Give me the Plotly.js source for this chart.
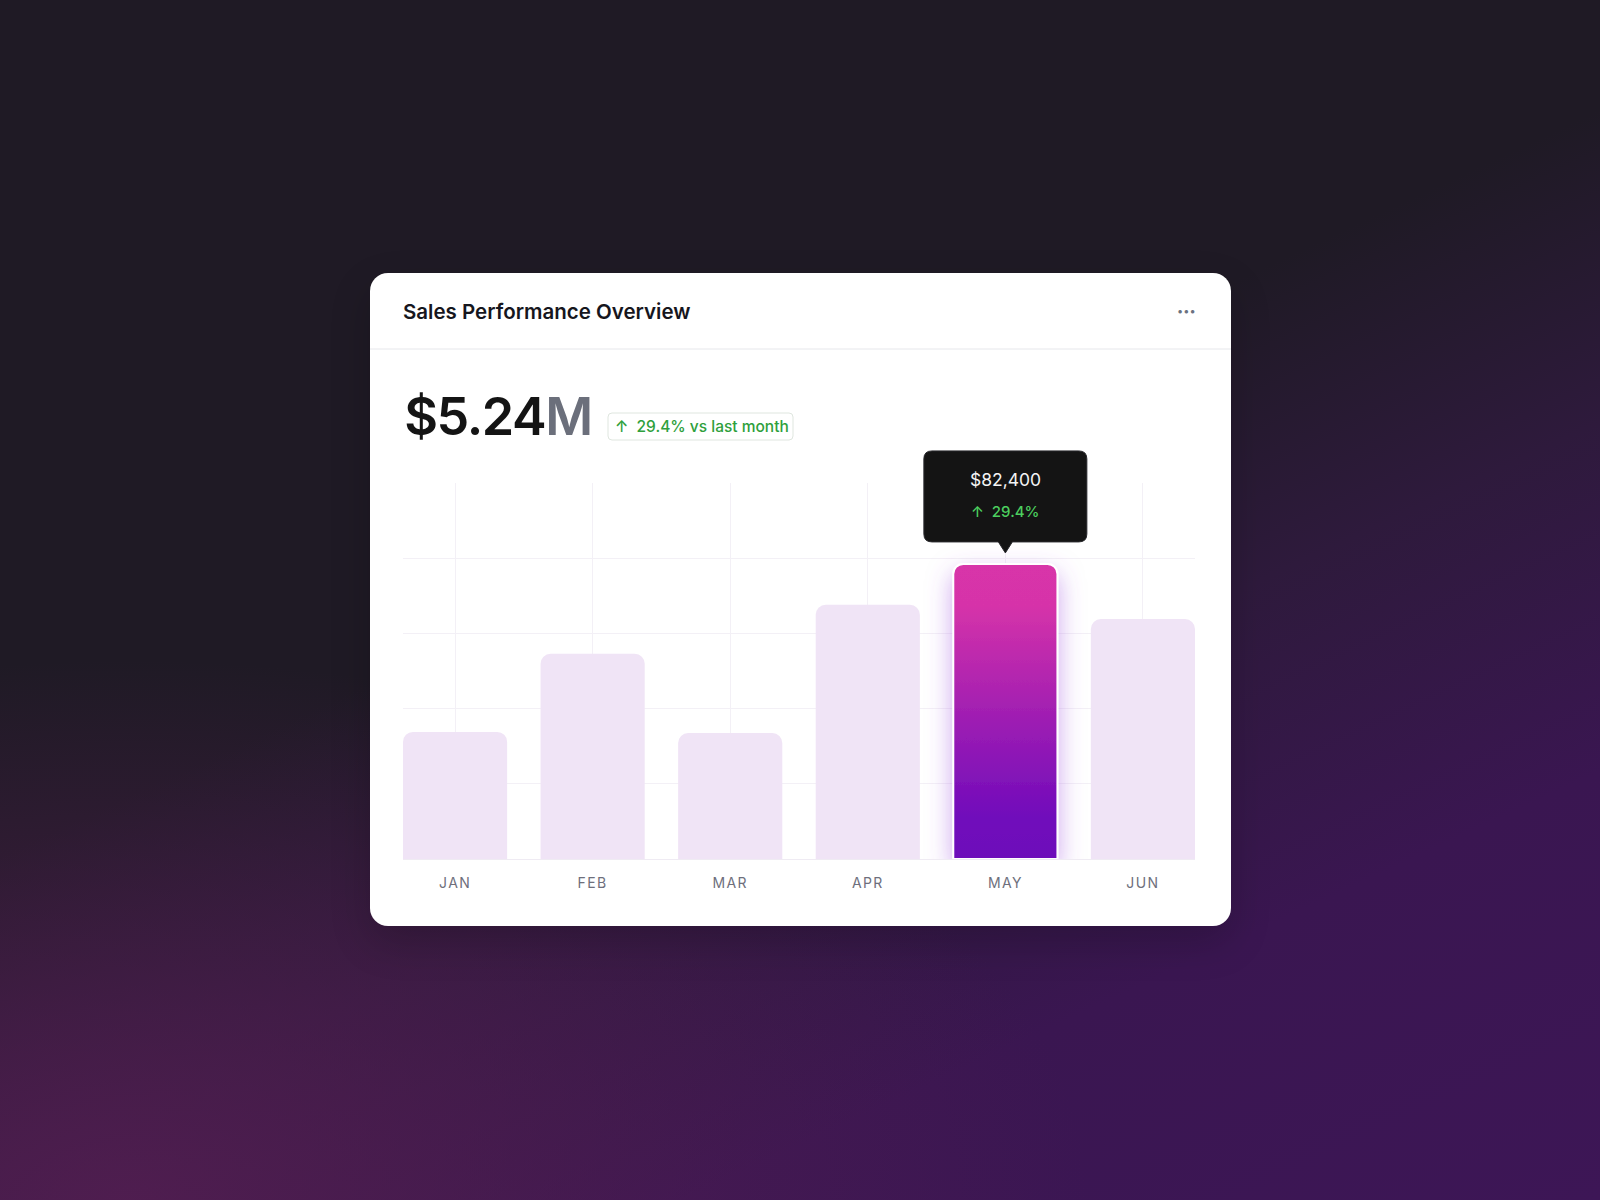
<!DOCTYPE html>
<html>
<head>
<meta charset="utf-8">
<script src="https://cdn.plot.ly/plotly-3.0.1.min.js"></script>
<style>
  html, body { margin: 0; padding: 0; width: 1600px; height: 1200px; overflow: hidden; }
  body {
    background:
      radial-gradient(ellipse 60% 45% at 8% 100%, rgba(84,30,82,0.85), rgba(84,30,82,0) 100%),
      linear-gradient(155deg, #1f1a25 0%, #1f1a25 44%, #2e1a3c 60%, #3a1651 78%, #3d1656 100%);
    font-family: Inter, "Noto Sans", sans-serif;
  }
  #card {
    position: absolute; left: 370px; top: 273px; width: 861px; height: 653px;
    background: #ffffff; border-radius: 18px;
    box-shadow: 0 16px 40px rgba(0,0,0,0.18);
    z-index: 0;
  }
  #chart { position: absolute; left: 0; top: 0; width: 1600px; height: 1200px; z-index: 1; }
  .xtick text { letter-spacing: 1.4px; }
  g.annotation[data-index="0"] text { letter-spacing: -1.4px; }
</style>
</head>
<body>
<div id="card"></div>
<div id="chart"></div>
<script>
// ---- data ----
const months = ['JAN', 'FEB', 'MAR', 'APR', 'MAY', 'JUN'];
const sales = [35500, 57300, 35200, 71000, 82400, 67000];
const highlightMonth = 'MAY';
const tooltipValue = '$82,400';
const tooltipChange = '29.4%';
const headlineValue = '$5.24';
const headlineUnit = 'M';
const badgeText = '29.4% vs last month';
const chartTitle = 'Sales Performance Overview';

// ---- layout constants (pixels) ----
const W = 1600, H = 1200;
const PL = 403, PR = 1195, PT = 483, PB = 859;
const PW = PR - PL, PH = PB - PT;
const YMAX = 105000, YSTEP = 21000;
const FONT = 'Inter, "Noto Sans", sans-serif';

const hi = months.indexOf(highlightMonth);
const px = v => (v - PL) / PW;      // page x -> paper x
const py = v => (PB - v) / PH;      // page y -> paper y

function roundRect(x0, x1, y0, y1, rx, ry, notch) {
  // y0 is bottom, y1 is top (y upward)
  let p = `M${x0 + rx},${y0}`;
  if (notch) p += ` L${notch.l},${y0} L${notch.cx},${notch.tip} L${notch.r},${y0}`;
  p += ` L${x1 - rx},${y0} Q${x1},${y0} ${x1},${y0 + ry}`;
  p += ` L${x1},${y1 - ry} Q${x1},${y1} ${x1 - rx},${y1}`;
  p += ` L${x0 + rx},${y1} Q${x0},${y1} ${x0},${y1 - ry}`;
  p += ` L${x0},${y0 + ry} Q${x0},${y0} ${x0 + rx},${y0} Z`;
  return p;
}

const barColors = months.map((m, i) => i === hi ? '#a11fb3' : '#f0e4f6');
const lineColors = months.map((m, i) => i === hi ? '#ffffff' : 'rgba(0,0,0,0)');
const lineWidths = months.map((m, i) => i === hi ? 2 : 0);

const data = [{
  type: 'bar',
  x: months,
  y: sales,
  marker: { color: barColors, line: { color: lineColors, width: lineWidths }, cornerradius: 10 },
  cliponaxis: false,
  hoverinfo: 'none'
}];

const badge = { x0: 608, x1: 793, y0: 413, y1: 440 };

const shapes = [
  // header divider
  { type: 'line', xref: 'paper', yref: 'paper', x0: px(370), x1: px(1231), y0: py(349), y1: py(349),
    line: { color: '#e6e7eb', width: 1 }, layer: 'below' },
  // badge
  { type: 'path', xref: 'paper', yref: 'paper',
    path: roundRect(px(badge.x0), px(badge.x1), py(badge.y1), py(badge.y0), 4 / PW, 4 / PH),
    fillcolor: '#ffffff', line: { color: '#dfe6df', width: 1 }, layer: 'above' },
  // tooltip anchored to highlighted bar
  { type: 'path', xref: 'x', yref: 'paper', xsizemode: 'pixel', ysizemode: 'pixel',
    xanchor: hi, yanchor: sales[hi] / YMAX,
    path: roundRect(-81.5, 81.5, 22, 113, 8, 8, { l: -7, r: 7, cx: 0, tip: 11 }),
    fillcolor: '#141414', line: { color: '#2a2a2e', width: 1 }, layer: 'above' }
];

const annotations = [
  { xref: 'paper', yref: 'paper', x: px(398), y: py(416), xanchor: 'left', yanchor: 'middle',
    text: `${headlineValue}<span style="color:#6b6f7b">${headlineUnit}</span>`, showarrow: false,
    font: { family: FONT, size: 52, color: '#141414', weight: 600 } },
  { xref: 'paper', yref: 'paper', x: px((badge.x0 + badge.x1) / 2 + 1), y: py(427), xanchor: 'center', yanchor: 'middle',
    text: '↑  ' + badgeText, showarrow: false,
    font: { family: FONT, size: 15.5, color: '#2ea03c', weight: 500 } },
  { xref: 'paper', yref: 'paper', x: px(1186), y: py(311), xanchor: 'center', yanchor: 'middle',
    text: '•••', showarrow: false,
    font: { family: FONT, size: 11, color: '#6b7280' } },
  { xref: 'x', yref: 'y', x: months[hi], y: sales[hi], yshift: 84, xanchor: 'center', yanchor: 'middle',
    text: tooltipValue, showarrow: false,
    font: { family: FONT, size: 17.5, color: '#f4f4f5', weight: 400 } },
  { xref: 'x', yref: 'y', x: months[hi], y: sales[hi], yshift: 52, xanchor: 'center', yanchor: 'middle',
    text: '↑  ' + tooltipChange, showarrow: false,
    font: { family: FONT, size: 15, color: '#4ccf5f', weight: 500 } }
];

const layout = {
  width: W, height: H,
  margin: { l: PL, r: W - PR, t: PT, b: H - PB, pad: 0 },
  paper_bgcolor: 'rgba(0,0,0,0)',
  plot_bgcolor: 'rgba(0,0,0,0)',
  showlegend: false,
  bargap: 0.243,
  title: {
    text: chartTitle, xref: 'container', yref: 'container',
    x: 403 / W, xanchor: 'left', y: 1 - 312 / H, yanchor: 'middle',
    font: { family: FONT, size: 20.5, color: '#16161d', weight: 600 }
  },
  xaxis: {
    type: 'category', range: [-0.3785, 5.3785],
    showgrid: true, gridcolor: '#f3f0f6', gridwidth: 1,
    showline: false, zeroline: false, ticks: '',
    ticklabelstandoff: 14,
    tickfont: { family: FONT, size: 14, color: '#6e6f7c' },
    fixedrange: true
  },
  yaxis: {
    range: [0, YMAX], dtick: YSTEP, tick0: 0,
    showgrid: true, gridcolor: '#f3f0f6', gridwidth: 1,
    zeroline: true, zerolinecolor: '#efebf3', zerolinewidth: 1,
    showticklabels: false, ticks: '', showline: false,
    fixedrange: true
  },
  shapes: shapes,
  annotations: annotations,
  hovermode: false
};

const gd = document.getElementById('chart');
Plotly.newPlot(gd, data, layout, { displayModeBar: false, staticPlot: true }).then(() => {
  const NS = 'http://www.w3.org/2000/svg';
  const svg = gd.querySelector('svg.main-svg');
  let defs = svg.querySelector('defs');
  if (!defs) { defs = document.createElementNS(NS, 'defs'); svg.insertBefore(defs, svg.firstChild); }
  const grad = document.createElementNS(NS, 'linearGradient');
  grad.setAttribute('id', 'mayGrad');
  grad.setAttribute('x1', '0'); grad.setAttribute('y1', '0');
  grad.setAttribute('x2', '0'); grad.setAttribute('y2', '1');
  [['0', '#d834a9'], ['0.14', '#d633a9'], ['0.5', '#a21fb2'], ['0.86', '#700bbb'], ['1', '#6d0bba']].forEach(([o, c]) => {
    const s = document.createElementNS(NS, 'stop');
    s.setAttribute('offset', o); s.setAttribute('stop-color', c);
    grad.appendChild(s);
  });
  defs.appendChild(grad);
  const filt = document.createElementNS(NS, 'filter');
  filt.setAttribute('id', 'mayGlow');
  filt.setAttribute('x', '-60%'); filt.setAttribute('y', '-25%');
  filt.setAttribute('width', '220%'); filt.setAttribute('height', '150%');
  const ds = document.createElementNS(NS, 'feDropShadow');
  ds.setAttribute('dx', '0'); ds.setAttribute('dy', '10');
  ds.setAttribute('stdDeviation', '12');
  ds.setAttribute('flood-color', '#9d4edd'); ds.setAttribute('flood-opacity', '0.5');
  filt.appendChild(ds);
  defs.appendChild(filt);
  const paths = gd.querySelectorAll('.barlayer .trace .point path');
  const p = paths[hi];
  if (p) {
    p.style.fill = 'url(#mayGrad)';
    p.setAttribute('filter', 'url(#mayGlow)');
  }
});
</script>
</body>
</html>
